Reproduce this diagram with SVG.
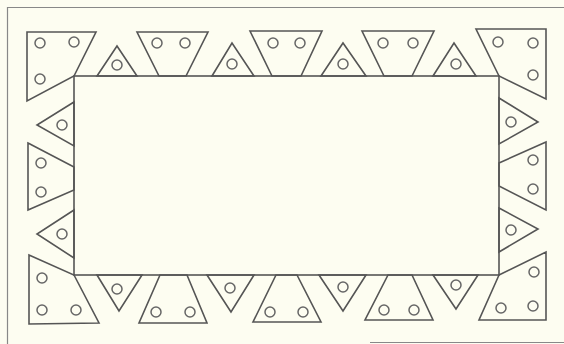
<svg xmlns="http://www.w3.org/2000/svg" width="564" height="344" viewBox="0 0 564 344">
<style>
.s{fill:none;stroke:#555;stroke-width:1.6;stroke-linejoin:miter}
.c{fill:none;stroke:#666;stroke-width:1.5}
.f{fill:none;stroke:#888;stroke-width:1.2}
</style>
<rect width="564" height="344" fill="#fdfdf1"/>
<g id="frame">
<path class="f" d="M7,7.5 H564 M7.5,7 V344 M370,342.5 H564"/>
</g>
<g id="panel">
<rect class="s" x="74" y="76" width="425" height="199"/>
</g>
<g id="top-row">
<polygon class="s" points="27,32 96,32 74,76 27,101"/>
<circle class="c" cx="40" cy="43" r="5"/><circle class="c" cx="74" cy="42" r="5"/><circle class="c" cx="40" cy="79" r="5"/>
<polygon class="s" points="97,76 117,46 137,76"/><circle class="c" cx="117" cy="65" r="5"/>
<polygon class="s" points="137,32 208,32 186,76 159,76"/>
<circle class="c" cx="157" cy="43" r="5"/><circle class="c" cx="185" cy="43" r="5"/>
<polygon class="s" points="212,76 232,43 254,76"/><circle class="c" cx="232" cy="64" r="5"/>
<polygon class="s" points="250,31 322,31 301,76 272,76"/>
<circle class="c" cx="273" cy="43" r="5"/><circle class="c" cx="300" cy="43" r="5"/>
<polygon class="s" points="321,76 343,43 366,76"/><circle class="c" cx="343" cy="64" r="5"/>
<polygon class="s" points="362,31 434,31 412,76 384,76"/>
<circle class="c" cx="383" cy="43" r="5"/><circle class="c" cx="413" cy="43" r="5"/>
<polygon class="s" points="433,76 454,43 476,76"/><circle class="c" cx="456" cy="64" r="5"/>
<polygon class="s" points="476,29 546,29 546,99 499,76"/>
<circle class="c" cx="498" cy="42" r="5"/><circle class="c" cx="533" cy="43" r="5"/><circle class="c" cx="533" cy="75" r="5"/>
</g>
<g id="left-col">
<polygon class="s" points="74,102 37,125 74,146"/><circle class="c" cx="62" cy="125" r="5"/>
<polygon class="s" points="28,143 74,167 74,190 28,210"/>
<circle class="c" cx="41" cy="163" r="5"/><circle class="c" cx="41" cy="192" r="5"/>
<polygon class="s" points="74,210 37,234 74,258"/><circle class="c" cx="62" cy="234" r="5"/>
</g>
<g id="right-col">
<polygon class="s" points="499,98 538,122 499,144"/><circle class="c" cx="511" cy="122" r="5"/>
<polygon class="s" points="499,163 546,142 546,210 499,186"/>
<circle class="c" cx="533" cy="160" r="5"/><circle class="c" cx="533" cy="189" r="5"/>
<polygon class="s" points="499,208 538,229 499,252"/><circle class="c" cx="511" cy="230" r="5"/>
</g>
<g id="bottom-row">
<polygon class="s" points="29,255 74,275 99,323 29,324"/>
<circle class="c" cx="42" cy="278" r="5"/><circle class="c" cx="42" cy="310" r="5"/><circle class="c" cx="76" cy="310" r="5"/>
<polygon class="s" points="97,275 119,311 142,275"/><circle class="c" cx="117" cy="289" r="5"/>
<polygon class="s" points="160,275 187,275 207,323 139,323"/>
<circle class="c" cx="156" cy="312" r="5"/><circle class="c" cx="190" cy="312" r="5"/>
<polygon class="s" points="207,275 231,312 254,275"/><circle class="c" cx="230" cy="288" r="5"/>
<polygon class="s" points="276,275 297,275 321,322 253,322"/>
<circle class="c" cx="270" cy="312" r="5"/><circle class="c" cx="303" cy="312" r="5"/>
<polygon class="s" points="319,275 343,311 366,275"/><circle class="c" cx="343" cy="287" r="5"/>
<polygon class="s" points="388,275 412,275 433,320 365,320"/>
<circle class="c" cx="384" cy="310" r="5"/><circle class="c" cx="414" cy="310" r="5"/>
<polygon class="s" points="433,275 456,309 478,275"/><circle class="c" cx="456" cy="285" r="5"/>
<polygon class="s" points="499,275 546,252 546,320 479,320"/>
<circle class="c" cx="534" cy="272" r="5"/><circle class="c" cx="501" cy="308" r="5"/><circle class="c" cx="533" cy="306" r="5"/>
</g>
</svg>
